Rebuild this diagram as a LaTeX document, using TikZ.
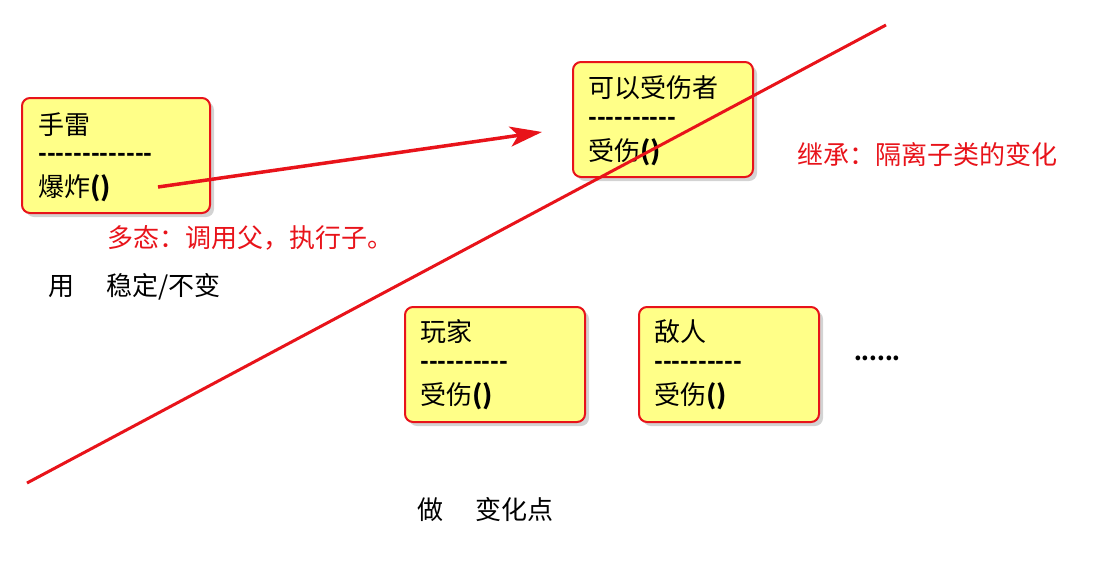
\documentclass[tikz,border=0pt]{standalone}
\usepackage{fontspec}
\setmainfont{Noto Sans CJK SC}
\usetikzlibrary{shadows,arrows.meta}
\definecolor{boxfill}{HTML}{FFFF88}
\definecolor{lred}{HTML}{E8131A}
\newcommand{\dsh}[1]{{\fontsize{23}{23}\selectfont\textbf{\foreach \i in {1,...,#1}{-}}}}
\tikzset{
  cls/.style={draw=lred,line width=2pt,fill=boxfill,rounded corners=8pt,drop shadow={shadow xshift=4pt,shadow yshift=-4pt,opacity=0.35}},
  txt/.style={anchor=west,inner sep=0pt,font=\fontsize{26}{26}\selectfont},
  rtxt/.style={txt,text=lred},
}
\begin{document}
\begin{tikzpicture}[x=1pt,y=-1pt]
\useasboundingbox (0,0) rectangle (1106,576);
% boxes
\path[cls] (22,98) rectangle (210,213);
\path[cls] (573,62) rectangle (753,177);
\path[cls] (405,307) rectangle (585,422);
\path[cls] (639,307) rectangle (819,422);
% box texts
\node[txt] (a1) at (38,125) {手雷};
\node[txt] (a2) at (38,157) {\dsh{13}};
\node[txt] (a3) at (38,188) {爆炸\textbf{()}};
\node[txt] (b1) at (588,88) {可以受伤者};
\node[txt] (b2) at (588,121) {\dsh{10}};
\node[txt] (b3) at (588,152) {受伤\textbf{()}};
\node[txt] (c1) at (420,332) {玩家};
\node[txt] (c2) at (420,365) {\dsh{10}};
\node[txt] (c3) at (420,396) {受伤\textbf{()}};
\node[txt] (d1) at (654,332) {敌人};
\node[txt] (d2) at (654,365) {\dsh{10}};
\node[txt] (d3) at (654,396) {受伤\textbf{()}};
\node[txt] (dots) at (854,358) {\fontsize{22}{22}\selectfont\textbf{......}};
% labels
\node[rtxt] (l1) at (107,238) {多态：调用父，执行子。};
\node[rtxt] (l2) at (797,155) {继承：隔离子类的变化};
\node[txt] (l3) at (48,287) {用\hspace{1.25em}稳定/不变};
\node[txt] (l4) at (417,510) {做\hspace{1.25em}变化点};
% lines
\coordinate (s1) at (27,483);
\coordinate (s2) at (886,25);
\draw[lred,line width=3pt] (s1) -- (s2);
\coordinate (p1) at (158,187);
\coordinate (p2) at (542,132);
\draw[lred,line width=3.5pt,-{Stealth[length=32pt,width=20pt,inset=8pt]}] (p1) -- (p2);
\end{tikzpicture}
\end{document}
